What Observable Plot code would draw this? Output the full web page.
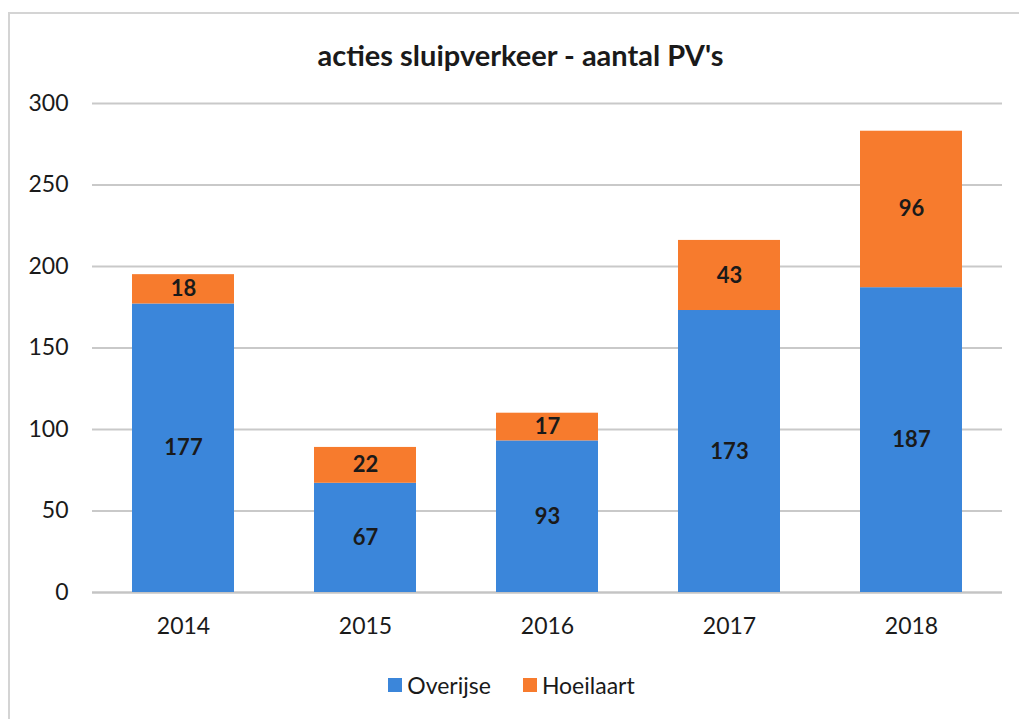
<!DOCTYPE html>
<html>
<head>
<meta charset="utf-8">
<script src="https://cdn.jsdelivr.net/npm/d3@7"></script>
<script src="https://cdn.jsdelivr.net/npm/@observablehq/plot@0.6"></script>
<style>
  html, body { margin: 0; padding: 0; background: #fff; }
  body { width: 1019px; height: 719px; position: relative; overflow: hidden; font-family: Lato, "Open Sans", sans-serif; }
  #frame { position: absolute; left: 8px; top: 12px; width: 1030px; height: 720px; border-top: 2px solid #d4d4d4; border-left: 2px solid #d4d4d4; box-sizing: border-box; }
  #title { position: absolute; left: 0; top: 37px; width: 1019px; text-align: center; font-size: 29px; font-weight: bold; line-height: 36px; color: #1a1a1a; padding-left: 22px; box-sizing: border-box; }
  #chart { position: absolute; left: 0; top: 85px; }
  #legend { position: absolute; left: 0; top: 670px; width: 1019px; display: flex; justify-content: center; gap: 32px; font-size: 23px; line-height: 30px; color: #1a1a1a; padding-left: 4px; box-sizing: border-box; }
  .item { display: flex; align-items: center; gap: 5px; }
  .sw { width: 14px; height: 14px; display: inline-block; }
</style>
</head>
<body>
<div id="frame"></div>
<div id="title">acties sluipverkeer - aantal PV's</div>
<div id="chart"></div>
<div id="legend"></div>
<script>
const years = ["2014", "2015", "2016", "2017", "2018"];
const series = ["Overijse", "Hoeilaart"];
const overijse = [177, 67, 93, 173, 187];
const hoeilaart = [18, 22, 17, 43, 96];
const yTicks = [0, 50, 100, 150, 200, 250, 300];
const colors = ["#3b86da", "#f77b2d"];

const data = [];
years.forEach((yr, i) => {
  data.push({year: yr, series: series[0], value: overijse[i]});
  data.push({year: yr, series: series[1], value: hoeilaart[i]});
});

const chart = Plot.plot({
  width: 1019,
  height: 567,
  marginLeft: 92,
  marginRight: 17,
  marginTop: 18,
  marginBottom: 60,
  style: {fontFamily: "Lato, 'Open Sans', sans-serif", fontSize: "23px", color: "#1a1a1a", background: "transparent"},
  x: {domain: years, paddingInner: 0.44, paddingOuter: 0.22, label: null},
  y: {domain: [0, 300], label: null},
  color: {domain: series, range: colors},
  marks: [
    Plot.gridY(yTicks, {stroke: "#c9c9c9", strokeOpacity: 1, strokeWidth: 2}),
    Plot.ruleY([0], {stroke: "#c4c4c4", strokeWidth: 2}),
    Plot.barY(data, {x: "year", y: "value", fill: "series", order: null}),
    Plot.text(data, Plot.stackY({x: "year", y: "value", z: "series", order: null, text: d => String(d.value), fontWeight: "bold", fontSize: 22, fill: "#1a1a1a"})),
    Plot.axisX({tickSize: 0, tickPadding: 25, fontSize: 23}),
    Plot.axisY(yTicks, {tickSize: 0, tickPadding: 24, fontSize: 23})
  ]
});
document.getElementById("chart").appendChild(chart);

const legend = document.getElementById("legend");
series.forEach((s, i) => {
  const it = document.createElement("div");
  it.className = "item";
  const sw = document.createElement("span");
  sw.className = "sw";
  sw.style.background = colors[i];
  const t = document.createElement("span");
  t.textContent = s;
  it.appendChild(sw);
  it.appendChild(t);
  legend.appendChild(it);
});
</script>
</body>
</html>
